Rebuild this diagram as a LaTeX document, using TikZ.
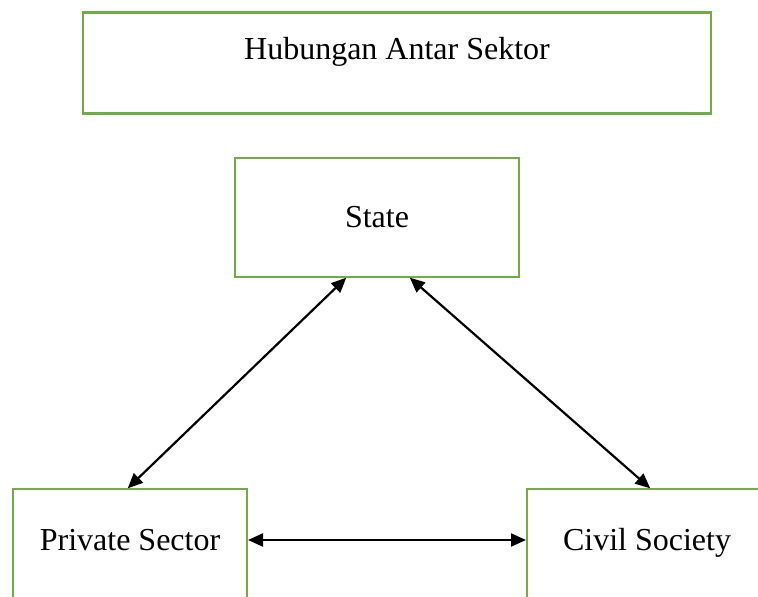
\documentclass[tikz,border=0pt]{standalone}
\usepackage{fontspec}
\setmainfont{Liberation Serif}
\usetikzlibrary{arrows.meta,calc}
\definecolor{boxgreen}{HTML}{70AD47}
\begin{document}
\begin{tikzpicture}[x=0.5pt,y=-0.5pt,
  gbox/.style={draw=boxgreen,line width=1.3pt,fill=white,inner sep=0pt,outer sep=0pt},
  lbl/.style={inner sep=0pt,anchor=base,font=\fontsize{16pt}{19pt}\selectfont},
  link/.style={line width=1.1pt,{Triangle[length=7.5pt,width=6.5pt]}-{Triangle[length=7.5pt,width=6.5pt]},shorten <=0.5pt,shorten >=0.5pt}]
\useasboundingbox (0,0) rectangle (758,597);
\clip (0,0) rectangle (758,597);
\node[gbox,minimum width=314pt,minimum height=50.5pt] (title) at (397,63) {};
\node[lbl] (titletext) at (397,60) {Hubungan Antar Sektor};
\node[gbox,minimum width=142pt,minimum height=59.5pt] (state) at (377,217.5) {};
\node[lbl] (statetext) at (377,228) {State};
\node[gbox,minimum width=117pt,minimum height=60pt,anchor=north] (private) at (130,489) {};
\node[lbl] (privatetext) at (130,550) {Private Sector};
\node[gbox,minimum width=120pt,minimum height=60pt,anchor=north] (civil) at (647,489) {};
\node[lbl] (civiltext) at (647,550) {Civil Society};
\coordinate (midrow) at (0,540);
\draw[link] ($(state.south)+(-30,0)$) -- ($(private.north)+(-3,0)$);
\draw[link] ($(state.south)+(32,0)$) -- ($(civil.north)+(4,0)$);
\draw[link] (private.east |- midrow) -- (civil.west |- midrow);
\end{tikzpicture}
\end{document}
